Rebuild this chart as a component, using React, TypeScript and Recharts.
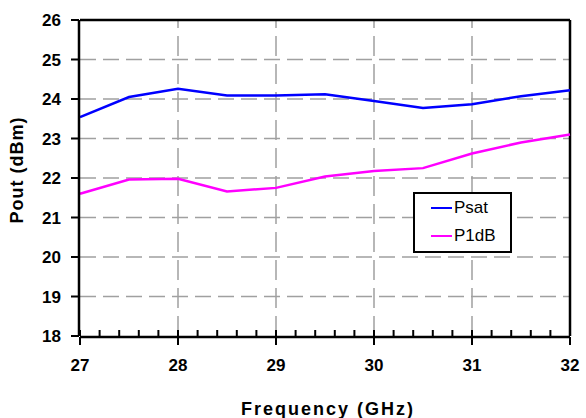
import { LineChart, Line, XAxis, YAxis, Legend, ReferenceLine, Label } from 'recharts'

const freq = [27, 27.5, 28, 28.5, 29, 29.5, 30, 30.5, 31, 31.5, 32]
const psat = [23.54, 24.05, 24.26, 24.09, 24.09, 24.12, 23.95, 23.77, 23.87, 24.07, 24.22]
const p1db = [21.6, 21.96, 21.98, 21.66, 21.75, 22.04, 22.18, 22.25, 22.62, 22.9, 23.1]
const seriesNames = ['Psat', 'P1dB']

const xTicks = [27, 28, 29, 30, 31, 32]
const yTicks = [18, 19, 20, 21, 22, 23, 24, 25, 26]

// minor ticks every 0.2
const minorX = Array.from({ length: 26 }, (_, i) => Math.round((27 + i * 0.2) * 10) / 10)
const minorY = Array.from({ length: 41 }, (_, i) => Math.round((18 + i * 0.2) * 10) / 10)

const data = freq.map((f, i) => ({ freq: f, Psat: psat[i], P1dB: p1db[i] }))

const font = '"Liberation Sans", Arial, sans-serif'
const tickStyle = { fontSize: 17, fontWeight: 700, fill: '#000', fontFamily: font }
const gridColor = '#a0a0a0'
// axis 0 = minor ticks (placed next to plot), axis 1 = main axes
const AX = 1

function LegendBox(props: any) {
  const items = props.payload || []
  const ordered = seriesNames.map((n) => items.find((it: any) => it.value === n)).filter(Boolean)
  return (
    <div
      style={{
        width: 95,
        height: 57,
        border: '2px solid #000',
        background: '#fff',
        fontFamily: font,
        fontSize: 17,
        color: '#000',
      }}
    >
      {ordered.map((it: any, i: number) => (
        <div key={it.value} style={{ position: 'absolute', left: 18, top: 6 + i * 28, display: 'flex', alignItems: 'center' }}>
          <span style={{ display: 'inline-block', width: 21, height: 2.5, background: it.color, marginRight: 2 }} />
          <span>{it.value}</span>
        </div>
      ))}
    </div>
  )
}

export default function App() {
  return (
    <div style={{ position: 'absolute', left: 0, top: 0, background: '#fff' }}>
      <LineChart width={586} height={418} data={data} margin={{ top: 20, right: 16, bottom: 0, left: 1 }}>
        {yTicks.slice(1, -1).map((t) => (
          <ReferenceLine key={'gy' + t} xAxisId={AX} yAxisId={AX} y={t} stroke={gridColor} strokeWidth={1.5} strokeDasharray="16 7" />
        ))}
        {xTicks.slice(1, -1).map((t) => (
          <ReferenceLine key={'gx' + t} xAxisId={AX} yAxisId={AX} x={t} stroke={gridColor} strokeWidth={1.5} strokeDasharray="20 8" />
        ))}
        <XAxis
          xAxisId={0}
          dataKey="freq"
          type="number"
          domain={[27, 32]}
          ticks={minorX}
          interval={0}
          height={1}
          axisLine={false}
          tickLine={{ stroke: '#000', strokeWidth: 2 }}
          tickSize={-6}
          tick={() => <g />}
        />
        <XAxis
          xAxisId={AX}
          dataKey="freq"
          type="number"
          domain={[27, 32]}
          ticks={xTicks}
          interval={0}
          height={81}
          axisLine={{ stroke: '#000', strokeWidth: 2.5 }}
          tickLine={{ stroke: '#000', strokeWidth: 2 }}
          tickSize={8}
          tickMargin={14}
          tick={tickStyle}
        >
          <Label
            content={() => (
              <text x={328} y={415} textAnchor="middle" fontFamily={font} fontSize={18} fontWeight={700} letterSpacing={2} fill="#000">
                Frequency (GHz)
              </text>
            )}
          />
        </XAxis>
        <YAxis
          yAxisId={0}
          type="number"
          domain={[18, 26]}
          ticks={minorY}
          interval={0}
          width={1}
          axisLine={false}
          tickLine={{ stroke: '#000', strokeWidth: 2 }}
          tickSize={-6}
          tick={() => <g />}
        />
        <YAxis
          yAxisId={AX}
          type="number"
          domain={[18, 26]}
          ticks={yTicks}
          interval={0}
          width={78}
          axisLine={{ stroke: '#000', strokeWidth: 2.5 }}
          tickLine={{ stroke: '#000', strokeWidth: 2 }}
          tickSize={8}
          tickMargin={10}
          tick={tickStyle}
        >
          <Label
            content={() => (
              <text
                x={23}
                y={170}
                transform="rotate(-90 23 170)"
                textAnchor="middle"
                fontFamily={font}
                fontSize={18}
                fontWeight={700}
                letterSpacing={1}
                fill="#000"
              >
                Pout (dBm)
              </text>
            )}
          />
        </YAxis>
        <ReferenceLine xAxisId={AX} yAxisId={AX} y={26} stroke="#000" strokeWidth={2.5} />
        <ReferenceLine xAxisId={AX} yAxisId={AX} x={32} stroke="#000" strokeWidth={2.5} />
        <Line xAxisId={AX} yAxisId={AX} dataKey="Psat" stroke="#0000ff" strokeWidth={2.5} dot={false} type="linear" isAnimationActive={false} />
        <Line xAxisId={AX} yAxisId={AX} dataKey="P1dB" stroke="#ff00ff" strokeWidth={2.5} dot={false} type="linear" isAnimationActive={false} />
        <Legend
          layout="vertical"
          align="center"
          verticalAlign="middle"
          wrapperStyle={{ left: 413, top: 192, width: 99, height: 61 }}
          content={LegendBox}
        />
      </LineChart>
    </div>
  )
}
